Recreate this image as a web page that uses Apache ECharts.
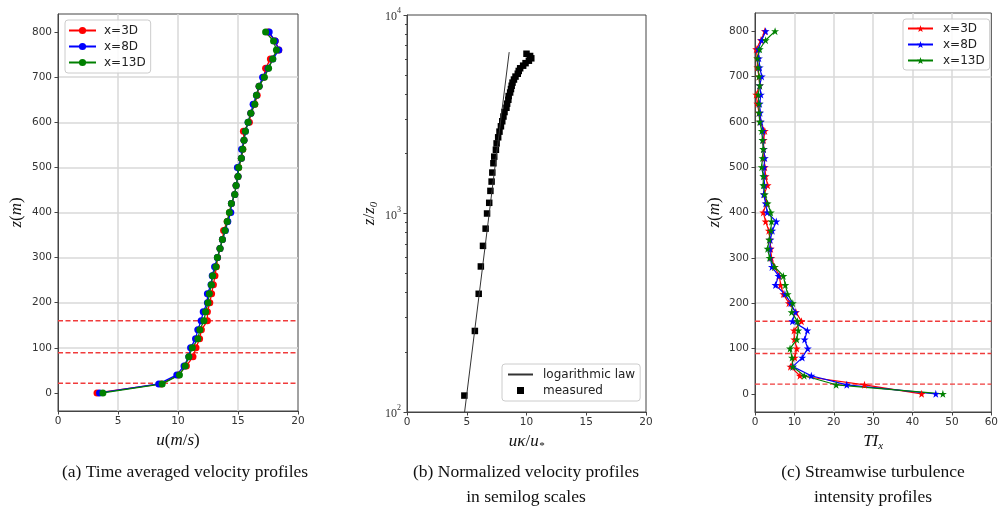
<!DOCTYPE html>
<html>
<head>
<meta charset="utf-8">
<script src="https://cdn.jsdelivr.net/npm/echarts@6/dist/echarts.min.js"></script>
<style>
  html, body { margin: 0; padding: 0; background: #fff; }
  #chart { width: 1001px; height: 509px; }
</style>
</head>
<body>
<div id="chart"></div>
<script>
// Sampling heights z (m), shared by the velocity and turbulence profiles
const heights = [0, 20, 40, 60, 80, 100, 120, 140, 160, 180, 200, 220, 240, 260, 280, 300,
  320, 340, 360, 380, 400, 420, 440, 460, 480, 500, 520, 540, 560, 580, 600, 620, 640, 660,
  680, 700, 720, 740, 760, 780, 800];

// (a) time averaged streamwise velocity u (m/s)
const u3D = [3.25, 8.6, 10.05, 10.7, 11.25, 11.5, 11.8, 11.95, 12.45, 12.45, 12.65, 12.8, 12.95,
  13.08, 13.2, 13.3, 13.5, 13.7, 13.8, 14.1, 14.3, 14.45, 14.73, 14.84, 15.0, 15.05, 15.28, 15.4,
  15.5, 15.45, 15.95, 16.07, 16.4, 16.6, 16.76, 17.15, 17.3, 17.7, 18.4, 18.1, 17.5];
const u8D = [3.46, 8.4, 9.9, 10.5, 10.9, 11.05, 11.46, 11.65, 11.93, 12.1, 12.45, 12.45, 12.75,
  12.85, 13.05, 13.28, 13.5, 13.7, 13.95, 14.15, 14.4, 14.45, 14.73, 14.84, 15.0, 14.95, 15.28, 15.3,
  15.5, 15.62, 15.84, 16.07, 16.26, 16.54, 16.76, 17.05, 17.5, 17.9, 18.4, 18.1, 17.6];
const u13D = [3.74, 8.68, 10.12, 10.6, 10.9, 11.19, 11.66, 11.82, 12.16, 12.3, 12.5, 12.61, 12.78,
  12.89, 13.16, 13.28, 13.5, 13.7, 13.92, 14.1, 14.28, 14.45, 14.73, 14.84, 15.0, 15.06, 15.28, 15.4,
  15.5, 15.62, 15.84, 16.07, 16.4, 16.54, 16.76, 17.2, 17.55, 17.9, 18.2, 17.96, 17.3];

// (b) normalized velocity u*kappa/u_star against z/z0
const zOverZ0 = [121, 256, 394, 541, 687, 839, 1000, 1132, 1300, 1448, 1608, 1791, 1934, 2095,
  2255, 2420, 2585, 2750, 2915, 3080, 3245, 3410, 3575, 3740, 3905, 4070, 4235, 4400, 4565, 4730,
  4895, 5060, 5225, 5390, 5555, 5720, 5885, 6050, 6215, 6380];
const uNorm = [4.8, 5.68, 6.0, 6.18, 6.36, 6.58, 6.7, 6.88, 6.98, 7.08, 7.14, 7.23, 7.3, 7.44,
  7.5, 7.63, 7.74, 7.86, 7.97, 8.07, 8.16, 8.32, 8.38, 8.48, 8.51, 8.63, 8.7, 8.76, 8.83, 8.95,
  9.08, 9.27, 9.35, 9.47, 9.72, 9.92, 10.2, 10.4, 10.3, 10.0];
const logLawU = [4.82, 8.55];
const logLawZ = [100, 6500];

// (c) streamwise turbulence intensity TI_x (%)
const ti3D = [42.3, 27.8, 11.4, 9.0, 10.1, 10.6, 10.0, 9.9, 11.8, 10.4, 8.6, 7.2, 6.5, 6.2, 5.0,
  4.15, 4.0, 3.8, 3.5, 2.7, 2.1, 2.9, 2.3, 3.2, 2.7, 2.5, 2.3, 2.2, 2.2, 2.5, 1.3, 1.0, 0.6, 0.3,
  1.2, 1.0, 0.6, 0.6, 0.3, 1.5, 2.5];
const ti8D = [45.9, 23.3, 14.3, 9.6, 12.0, 13.4, 12.6, 13.3, 9.5, 10.2, 9.1, 7.6, 5.2, 6.0, 4.3,
  3.9, 3.8, 3.9, 4.4, 5.4, 3.1, 2.7, 2.2, 2.4, 2.3, 2.3, 2.5, 2.2, 2.0, 2.1, 1.5, 1.3, 1.2, 1.5,
  1.2, 1.7, 1.2, 1.0, 0.8, 1.7, 2.7];
const ti13D = [47.7, 20.6, 12.5, 9.6, 9.4, 8.9, 10.6, 11.0, 10.8, 9.3, 9.6, 8.3, 7.7, 7.2, 5.0,
  3.7, 3.2, 3.6, 4.0, 4.2, 4.0, 3.2, 2.5, 2.1, 2.1, 1.7, 1.9, 2.1, 1.9, 1.7, 1.2, 1.0, 1.0, 0.8,
  1.2, 1.0, 0.8, 0.6, 1.2, 2.7, 5.1];

// Rotor bottom, hub and top heights (m)
const rotorLevels = [21.5, 89, 160];

// Tick values
const zTicks = [0, 100, 200, 300, 400, 500, 600, 700, 800];
const logMinorTicks = [200, 300, 400, 500, 600, 700, 800, 900, 2000, 3000, 4000, 5000, 6000, 7000, 8000, 9000];

const stations = ['x=3D', 'x=8D', 'x=13D'];
const colors = ['#ff0000', '#0000ff', '#008000'];

const STAR = 'path://M0,-1L0.2245,-0.309L0.951,-0.309L0.363,0.118L0.588,0.809L0,0.382L-0.588,0.809L-0.363,0.118L-0.951,-0.309L-0.2245,-0.309Z';
const SQUARE = 'path://M0,0L1,0L1,1L0,1Z';

const SPINE = '#444';
const DASH_RED = '#f03c3c';
const tickFont = { fontFamily: 'DejaVu Sans', fontSize: 10.5, color: '#333' };
const mathRich = {
  i: { fontFamily: 'Liberation Serif', fontStyle: 'italic', fontSize: 17, color: '#111', lineHeight: 20, verticalAlign: 'middle' },
  r: { fontFamily: 'Liberation Serif', fontSize: 17, color: '#111', lineHeight: 20, verticalAlign: 'middle' },
  sub: { fontFamily: 'Liberation Serif', fontStyle: 'italic', fontSize: 11, color: '#111', lineHeight: 20, verticalAlign: 'bottom' }
};

function valueAxis(grid, min, max, extra) {
  return Object.assign({
    type: 'value', gridIndex: grid, min: min, max: max,
    axisLine: { show: true, onZero: false, lineStyle: { color: SPINE, width: 1 } },
    axisTick: { show: true, inside: false, length: 3.5, lineStyle: { color: SPINE } },
    axisLabel: Object.assign({ margin: 5 }, tickFont),
    splitLine: { show: true, showMinLine: false, showMaxLine: false, lineStyle: { color: '#d9d9d9', width: 1.5 } },
    nameLocation: 'middle',
    nameTextStyle: { rich: mathRich }
  }, extra || {});
}

// horizontal dashed rotor-level lines, drawn as their own series spanning the axis range
function rotorSeries(xAxisIndex, yAxisIndex, xMin, xMax) {
  return rotorLevels.map(v => ({
    type: 'line', xAxisIndex: xAxisIndex, yAxisIndex: yAxisIndex, silent: true,
    data: [[xMin, v], [xMax, v]], symbol: 'none', z: 1,
    lineStyle: { type: [5, 2.5], color: DASH_RED, width: 1.4 },
    itemStyle: { color: DASH_RED }, animation: false
  }));
}

const series = [];
// (a) velocity profiles
series.push(...rotorSeries(0, 0, 0, 20));
[u3D, u8D, u13D].forEach((u, k) => {
  series.push({
    name: stations[k], type: 'line', xAxisIndex: 0, yAxisIndex: 0,
    data: heights.map((z, i) => [u[i], z]),
    symbol: 'circle', symbolSize: 7, showSymbol: true,
    lineStyle: { width: 1.3, color: colors[k] }, itemStyle: { color: colors[k] },
    animation: false
  });
});
// (b) semilog profile
series.push({
  name: 'logarithmic law', type: 'line', xAxisIndex: 1, yAxisIndex: 1,
  data: logLawU.map((u, i) => [u, logLawZ[i]]),
  symbol: 'none', lineStyle: { width: 1, color: '#333' }, itemStyle: { color: 'rgba(0,0,0,0)' },
  animation: false
});
series.push({
  name: 'measured', type: 'scatter', xAxisIndex: 1, yAxisIndex: 1,
  data: uNorm.map((u, i) => [u, zOverZ0[i]]),
  symbol: 'rect', symbolSize: 6.5, itemStyle: { color: '#000', opacity: 1 },
  animation: false
});
// (c) turbulence intensity profiles
series.push(...rotorSeries(2, 3, 0, 60));
[ti3D, ti8D, ti13D].forEach((t, k) => {
  series.push({
    name: 'TI: ' + stations[k], type: 'line', xAxisIndex: 2, yAxisIndex: 3,
    data: heights.map((z, i) => [t[i], z]),
    symbol: STAR, symbolSize: 8, showSymbol: true,
    lineStyle: { width: 1.2, color: colors[k] }, itemStyle: { color: colors[k] },
    animation: false
  });
});

const legendBase = {
  orient: 'vertical', itemGap: 4, itemHeight: 9, symbolKeepAspect: true,
  backgroundColor: 'rgba(255,255,255,0.85)', borderColor: '#cccccc', borderWidth: 1, borderRadius: 3,
  textStyle: { fontFamily: 'DejaVu Sans', fontSize: 12, color: '#222', padding: [0, 0, 0, 3] },
  selectedMode: false
};

const captionFont = '17.5px "Liberation Serif"';
function caption(x, y, text) {
  return { type: 'text', x: x, y: y, style: { text: text, font: captionFont, fill: '#111', align: 'center', verticalAlign: 'middle' } };
}

const option = {
  backgroundColor: '#fff',
  animation: false,
  grid: [
    { left: 58, top: 14, width: 240, height: 397, show: true, borderColor: SPINE, borderWidth: 1 },
    { left: 407, top: 15, width: 239, height: 397, show: true, borderColor: SPINE, borderWidth: 1 },
    { left: 755, top: 13, width: 241, height: 399, show: true, borderColor: SPINE, borderWidth: 1 }
  ],
  xAxis: [
    valueAxis(0, 0, 20, { interval: 5, name: '{i|u}{r|(}{i|m}{r|/}{i|s}{r|)}', nameGap: 19 }),
    valueAxis(1, 0, 20, { interval: 5, splitLine: { show: false }, name: '{i|uκ}{r|/}{i|u}{sub|*}', nameGap: 19 }),
    valueAxis(2, 0, 60, { interval: 10, name: '{i|TI}{sub|x}', nameGap: 19 })
  ],
  yAxis: [
    valueAxis(0, -40, 840, {
      axisTick: { show: true, inside: false, length: 3.5, lineStyle: { color: SPINE }, customValues: zTicks },
      axisLabel: Object.assign({ margin: 6, customValues: zTicks }, tickFont),
      name: '{i|z}{r|(}{i|m}{r|)}', nameGap: 31
    }),
    {
      type: 'log', gridIndex: 1, min: 100, max: 10000, logBase: 10, position: 'left',
      axisLine: { show: true, lineStyle: { color: SPINE, width: 1 } },
      axisTick: { show: true, inside: false, length: 3.5, lineStyle: { color: SPINE } },
      axisLabel: {
        margin: 6,
        formatter: v => '{b|10}{s|' + Math.round(Math.log10(v)) + '}',
        rich: {
          b: { fontFamily: 'Liberation Serif', fontSize: 12, color: '#333', lineHeight: 16, verticalAlign: 'bottom' },
          s: { fontFamily: 'Liberation Serif', fontSize: 8, color: '#333', lineHeight: 16, verticalAlign: 'top' }
        }
      },
      splitLine: { show: false },
      nameLocation: 'middle', name: '{i|z}{r|/}{i|z}{sub|0}', nameGap: 27,
      nameTextStyle: { rich: mathRich }
    },
    {
      // minor decade ticks of the semilog axis, placed on a linear log10 scale
      type: 'value', gridIndex: 1, min: 2, max: 4, position: 'left',
      axisLine: { show: false },
      axisTick: { show: true, inside: false, length: 2, lineStyle: { color: SPINE }, customValues: logMinorTicks.map(v => Math.log10(v)) },
      axisLabel: { show: false },
      splitLine: { show: false }
    },
    valueAxis(2, -40, 840, {
      axisTick: { show: true, inside: false, length: 3.5, lineStyle: { color: SPINE }, customValues: zTicks },
      axisLabel: Object.assign({ margin: 6, customValues: zTicks }, tickFont),
      name: '{i|z}{r|(}{i|m}{r|)}', nameGap: 30
    })
  ],
  legend: [
    Object.assign({}, legendBase, {
      left: 65, top: 20, itemWidth: 27, padding: [4.5, 5, 4.5, 3],
      data: stations
    }),
    Object.assign({}, legendBase, {
      left: 502, top: 364, itemWidth: 25, padding: [4.5, 5, 4.5, 5], itemHeight: 7, itemGap: 4,
      textStyle: Object.assign({}, legendBase.textStyle, { padding: [0, 0, 0, 5] }),
      data: ['logarithmic law', { name: 'measured', icon: SQUARE }]
    }),
    Object.assign({}, legendBase, {
      left: 903, top: 19, itemWidth: 25, padding: [3.5, 5, 3.5, 4],
      textStyle: Object.assign({}, legendBase.textStyle, { padding: [0, 0, 0, 5] }),
      formatter: n => n.replace('TI: ', ''),
      data: stations.map(s => 'TI: ' + s)
    })
  ],
  graphic: [
    caption(185, 472, '(a) Time averaged velocity profiles'),
    caption(526, 472, '(b) Normalized velocity profiles'),
    caption(526, 497, 'in semilog scales'),
    caption(873, 472, '(c) Streamwise turbulence'),
    caption(873, 497, 'intensity profiles')
  ],
  series: series
};

const chart = echarts.init(document.getElementById('chart'));
chart.setOption(option);
</script>
</body>
</html>
